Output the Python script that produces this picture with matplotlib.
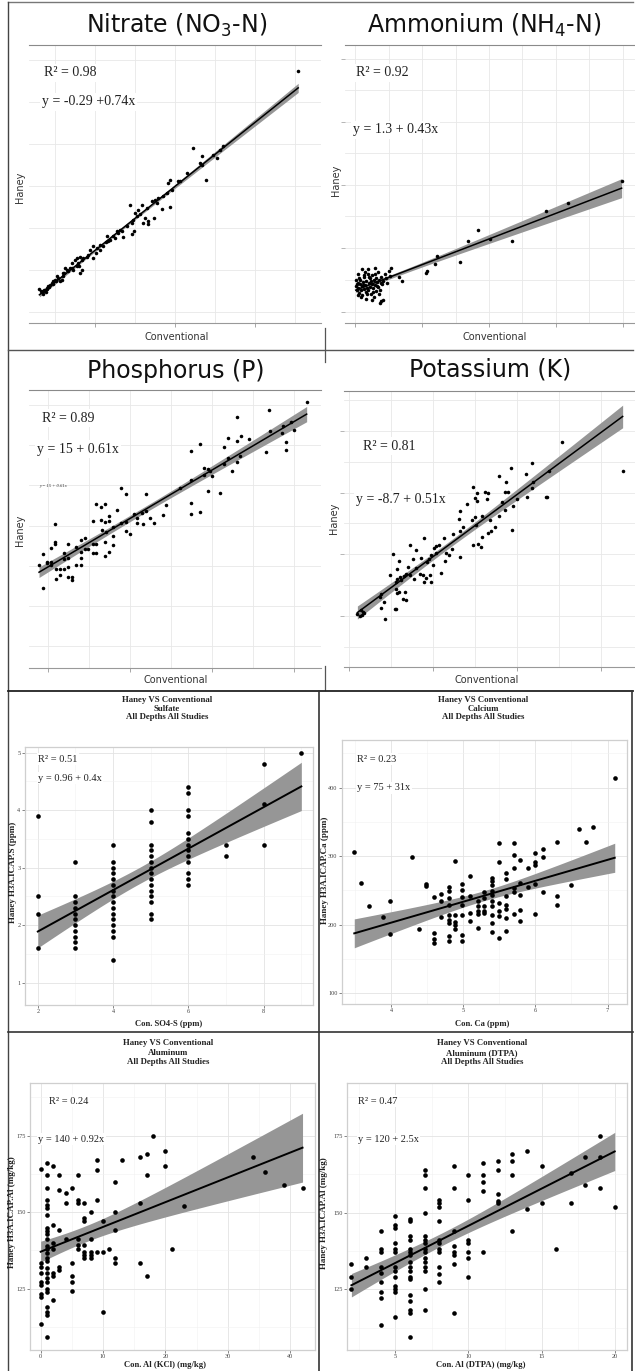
import numpy as np
import matplotlib.pyplot as plt
from matplotlib.lines import Line2D

# ---- data ---------------------------------------------------------------
# top four panels have no tick labels, units are only relative
NO3_X = [70.8, 44.6, 46.8, 52.1, 50.6, 47.7, 46.8, 40.8, 38.8, 38.3,
         38.8, 36.7, 37.1, 35.8, 35.0, 34.2, 28.8, 31.8, 30.8, 30.0,
         29.6, 29.8, 29.3, 32.5, 33.3, 34.8, 32.1, 33.3, 26.3, 25.8,
         25.4, 27.1, 24.6, 23.8, 22.9, 22.8, 21.3, 20.4, 19.6, 18.8,
         18.3, 19.6, 22.1, 16.3, 15.8, 16.7, 15.4, 14.2, 13.8, 16.7,
         16.3, 15.0, 12.9, 12.3, 12.1, 11.7, 10.8, 10.0, 9.2, 8.8,
         8.3, 7.9, 7.5, 7.1, 6.7, 6.9, 7.3, 9.6, 10.4, 11.3,
         12.5, 13.3, 14.6, 17.1, 17.9, 20.3, 21.3, 23.3, 25.0, 26.7,
         27.9, 29.2, 30.4, 31.3, 32.9, 35.4, 37.9, 39.2, 41.3, 42.9,
         46.3, 49.6, 51.3, 6.4, 7.8, 8.1, 6.1, 8.6, 9.4, 10.3,
         11.9, 14.2, 15.4, 16.1]
NO3_Y = [57.4, 39.0, 37.2, 39.4, 36.6, 31.5, 34.9, 31.1, 31.5, 30.7,
         25.1, 24.5, 27.5, 27.1, 26.7, 26.3, 25.4, 25.4, 24.2, 23.5,
         21.9, 19.2, 18.5, 22.4, 21.6, 22.4, 21.2, 21.0, 19.6, 18.8,
         19.2, 17.8, 18.0, 17.2, 18.0, 16.6, 16.0, 15.2, 15.6, 14.8,
         13.6, 12.8, 15.6, 13.2, 11.7, 12.4, 10.9, 11.7, 10.5, 10.1,
         9.3, 12.4, 10.1, 9.3, 8.5, 7.7, 8.1, 7.7, 6.9, 6.5,
         6.1, 5.7, 5.3, 4.9, 4.7, 4.4, 5.3, 7.3, 8.5, 7.3,
         10.5, 9.7, 10.1, 12.8, 13.2, 14.0, 14.8, 16.8, 17.6, 19.2,
         20.4, 21.2, 22.8, 23.2, 24.7, 25.9, 28.3, 29.1, 31.1, 33.1,
         35.4, 37.4, 38.6, 5.1, 4.7, 5.5, 5.5, 6.0, 6.7, 7.3,
         9.3, 10.5, 12.8, 10.9]

NH4_X = [39.8, 31.8, 28.5, 23.5, 20.1, 18.4, 16.8, 15.6, 12.2, 12.0,
         10.7, 10.6, 7.0, 6.6,
         0.2, 0.3, 0.4, 0.5, 0.6, 0.7, 0.8, 0.9, 1.0, 1.1,
         1.2, 1.3, 1.4, 1.5, 1.6, 1.7, 1.8, 1.9, 2.0, 2.1,
         2.2, 2.3, 2.4, 2.5, 2.6, 2.7, 2.8, 2.9, 3.0, 3.1,
         3.2, 3.3, 3.4, 3.5, 3.6, 3.7, 3.8, 3.9, 4.0, 4.2,
         4.4, 4.6, 4.8, 5.0, 5.2, 0.3, 0.6, 0.9, 1.2, 1.5,
         1.8, 2.1, 2.4, 2.7, 3.0, 3.3, 3.6, 3.9, 1.0, 1.3,
         0.1, 0.4, 2.0, 3.0, 5.3, 0.5, 2.6, 4.1, 3.9, 1.6]
NH4_Y = [19.1, 15.4, 14.1, 9.0, 9.4, 10.9, 9.0, 5.5, 6.5, 5.2,
         4.0, 3.7, 2.4, 3.0,
         1.5, 0.8, 2.1, 1.2, 0.3, 1.8, 2.6, 0.9, 1.5, 0.0,
         2.2, 1.0, 3.1, 1.7, 0.5, 2.4, 1.2, 3.5, 0.8, 2.0,
         1.4, 2.9, 0.2, 1.9, 3.3, 1.1, 2.5, -0.3, 1.6, 2.8,
         0.6, 2.2, 3.9, 1.3, 2.6, -1.4, 0.9, 3.0, 1.8, 2.4,
         3.6, 2.9, 2.0, 4.0, 3.2, 1.9, 2.9, -0.4, 1.6, 3.8,
         0.2, 3.0, 2.3, 0.5, 3.6, 1.5, 0.1, 2.0, 4.3, 3.3,
         2.5, 0.0, 4.4, 4.5, 4.6, 3.5, -0.8, -0.9, -1.0, -0.6]

P_X = [146.2, 128.0, 112.0, 134.5, 138.4, 128.3, 140.0, 134.3, 136.1, 136.1,
       126.2, 107.9, 112.0, 114.1, 118.0, 106.0, 107.9, 112.0, 113.6, 109.8,
       106.0, 96.1, 98.2, 99.0, 100.1, 96.1, 94.1, 90.0, 90.0, 84.3,
       98.2, 103.9, 90.0, 90.0, 94.1, 77.8, 75.9, 71.8, 69.7, 68.0,
       68.0, 65.8, 63.6, 61.9, 63.6, 66.1, 55.8, 57.8, 53.7, 58.0,
       59.9, 57.8, 55.8, 51.8, 43.6, 45.7, 47.8, 45.7, 47.8, 49.7,
       49.7, 46.1, 48.2, 41.7, 43.6, 41.7, 43.6, 39.7, 41.9, 47.8,
       49.7, 51.8, 51.8, 47.8, 37.9, 36.3, 37.8, 36.3, 33.7, 36.3,
       33.7, 36.3, 29.8, 29.8, 27.8, 27.7, 23.6, 23.6, 23.6, 21.6,
       19.7, 21.6, 21.6, 17.6, 15.6, 17.6, 23.7, 23.7, 25.7, 27.8,
       29.8, 29.8, 31.7, 31.7, 25.7, 19.5]
P_Y = [110.1, 106.3, 102.9, 98.4, 100.1, 95.8, 96.3, 94.9, 90.1, 86.1,
       85.5, 92.1, 90.8, 93.4, 91.6, 87.6, 82.5, 80.1, 83.3, 76.0,
       79.1, 77.5, 76.8, 75.8, 73.5, 73.8, 89.4, 85.8, 71.3, 67.5,
       66.0, 64.8, 59.7, 54.2, 55.5, 58.7, 53.8, 49.7, 52.5, 64.2,
       55.8, 54.7, 52.2, 54.5, 50.0, 49.5, 67.5, 64.3, 56.3, 50.5,
       44.4, 46.0, 49.7, 48.0, 59.5, 58.0, 59.3, 51.3, 50.5, 53.5,
       50.9, 46.4, 45.5, 50.9, 39.2, 34.7, 34.7, 36.9, 39.4, 33.5,
       35.5, 38.9, 43.5, 40.5, 42.5, 41.4, 36.9, 35.5, 38.0, 32.5,
       29.2, 28.9, 39.2, 32.2, 34.7, 31.7, 49.4, 40.5, 39.2, 37.5,
       30.5, 30.5, 28.9, 34.4, 28.9, 17.7, 27.2, 22.2, 24.2, 26.9,
       28.1, 23.1, 23.1, 21.4, 27.2, 29.7]

K_X = [425.4, 352.8, 317.1, 292.5, 278.2, 310.3, 286.1, 285.3, 288.5, 318.3,
       317.1, 311.1, 300.0, 295.3, 293.3, 335.7, 334.1, 338.1, 281.4, 285.3,
       278.6, 273.4, 268.7, 265.5, 267.5, 264.3, 261.5, 265.5, 258.7, 247.6,
       251.6, 249.6, 239.7, 251.6, 249.6, 246.5, 250.8, 257.6, 247.6, 253.6,
       256.8, 231.0, 231.8, 235.7, 231.8, 231.8, 223.8, 222.6, 215.9, 213.9,
       219.1, 213.1, 206.8, 203.2, 201.2, 204.0, 200.0, 209.1, 197.2, 194.9,
       192.9, 196.1, 198.0, 188.9, 191.3, 188.1, 185.3, 189.3, 179.4, 172.2,
       176.2, 177.0, 172.2, 168.3, 165.1, 162.3, 160.3, 157.6, 156.4, 159.1,
       152.4, 148.4, 157.2, 155.6, 157.2, 159.5, 166.3, 167.5, 164.3, 154.4,
       156.4, 141.3, 138.5, 137.7, 142.5, 116.7, 115.5, 117.9, 109.9, 114.7,
       112.7, 136.5, 170.3, 180.2, 184.1]
K_Y = [162.9, 186.6, 169.1, 165.6, 158.9, 160.5, 154.3, 146.2, 145.7, 154.3,
       149.4, 142.2, 140.3, 134.6, 115.2, 142.2, 141.6, 162.9, 138.1, 131.4,
       126.5, 117.4, 114.4, 113.3, 123.3, 140.3, 146.2, 144.9, 126.8, 150.2,
       144.9, 141.3, 136.0, 138.7, 126.0, 123.3, 119.3, 109.8, 103.1, 104.4,
       101.8, 124.1, 130.6, 117.9, 114.7, 93.7, 112.0, 100.4, 96.4, 90.2,
       94.8, 109.0, 103.1, 102.3, 101.2, 96.4, 87.0, 80.8, 95.0, 91.8,
       89.6, 78.9, 73.0, 73.0, 77.0, 78.9, 93.1, 108.5, 99.6, 103.1,
       92.3, 76.2, 79.4, 80.2, 78.3, 74.8, 77.5, 76.2, 73.5, 90.2,
       95.6, 78.9, 83.7, 68.1, 64.9, 65.4, 65.4, 58.7, 60.0, 52.0,
       52.0, 57.3, 64.1, 52.5, 43.3, 49.3, 46.5, 48.4, 47.9, 50.6,
       45.7, 61.4, 85.6, 84.8, 80.2]

SO4_X = [2, 2, 2, 2,
         3, 3, 3, 3, 3, 3, 3, 3, 3, 3, 3,
         4, 4, 4, 4, 4, 4, 4, 4, 4, 4, 4, 4, 4, 4, 4, 4,
         5, 5, 5, 5, 5, 5, 5, 5, 5, 5, 5, 5, 5, 5, 5,
         6, 6, 6, 6, 6, 6, 6, 6, 6, 6, 6, 6, 6,
         7, 7, 8, 8, 8, 9]
SO4_Y = [3.9, 2.5, 2.2, 1.6,
         3.1, 2.5, 2.4, 2.3, 2.2, 2.1, 2.0, 1.9, 1.8, 1.7, 1.6,
         3.4, 3.1, 3.0, 2.9, 2.8, 2.7, 2.6, 2.5, 2.4, 2.3, 2.2, 2.1, 2.0, 1.9, 1.8, 1.4,
         4.0, 3.8, 3.4, 3.3, 3.2, 3.1, 3.0, 2.9, 2.8, 2.7, 2.6, 2.5, 2.4, 2.2, 2.1,
         4.4, 4.3, 4.0, 3.9, 3.6, 3.5, 3.4, 3.3, 3.2, 3.1, 2.9, 2.8, 2.7,
         3.4, 3.2, 4.8, 4.1, 3.4, 5.0]

CA_X = [7.10, 6.60, 6.80, 6.70, 6.30, 6.10, 6.10, 6.00, 6.00, 6.00,
        5.79, 5.90, 5.70, 5.70, 5.70, 5.49, 5.49, 5.59, 5.59, 5.40,
        5.40, 5.09, 4.89, 4.29, 3.49, 3.59, 3.69, 3.89, 3.99, 3.99,
        4.39, 4.49, 4.49, 4.59, 4.59, 4.59, 4.59, 4.69, 4.69, 4.69,
        4.80, 4.80, 4.80, 4.80, 4.80, 4.80, 4.80, 4.80, 4.80, 4.89,
        4.89, 4.89, 4.89, 4.99, 4.99, 4.99, 4.99, 4.99, 4.99, 4.99,
        5.09, 5.09, 5.09, 5.20, 5.20, 5.20, 5.20, 5.20, 5.29, 5.29,
        5.29, 5.29, 5.29, 5.40, 5.40, 5.40, 5.40, 5.40, 5.40, 5.40,
        5.40, 5.49, 5.49, 5.49, 5.49, 5.59, 5.59, 5.59, 5.59, 5.59,
        5.70, 5.70, 5.70, 5.79, 5.79, 5.79, 5.79, 5.90, 6.00, 6.00,
        6.10, 6.30, 6.30, 6.50]
CA_Y = [413.6, 339.3, 342.2, 321.4, 321.4, 310.2, 299.5, 304.4, 292.2, 287.4,
        294.7, 282.5, 318.9, 302.0, 283.5, 318.9, 292.2, 275.2, 267.0, 268.9,
        264.1, 270.4, 293.7, 298.1, 306.8, 260.7, 226.7, 210.7, 234.9, 186.4,
        193.7, 259.7, 256.2, 240.3, 187.9, 179.6, 173.3, 244.7, 234.9, 211.2,
        255.8, 249.5, 238.8, 229.1, 214.6, 207.3, 202.4, 183.0, 176.7, 214.6,
        203.9, 199.0, 194.2, 259.2, 251.0, 240.3, 228.2, 214.6, 184.5, 176.7,
        241.3, 217.0, 204.9, 234.9, 226.7, 219.4, 215.5, 195.1, 247.6, 238.8,
        227.7, 220.4, 217.0, 257.3, 249.5, 242.7, 234.0, 226.7, 214.6, 202.4,
        189.3, 231.6, 220.4, 213.1, 180.6, 241.3, 228.2, 223.3, 209.7, 191.3,
        253.4, 248.5, 215.5, 260.7, 243.7, 221.8, 205.8, 255.8, 259.2, 216.0,
        248.5, 241.3, 228.2, 258.3]

AL_X = [18, 20, 20, 17, 17, 16, 13, 9, 9, 9,
        12, 12, 12, 12, 12, 16, 16, 17, 21, 23,
        34, 36, 39, 42, 10, 10, 10, 11, 9, 8,
        8, 8, 8, 8, 7, 7, 7, 7, 7, 7,
        7, 6, 6, 6, 6, 6, 6, 5, 5, 5,
        5, 5, 4, 4, 4, 3, 3, 3, 3, 3,
        2, 2, 2, 2, 2, 2, 2, 1, 1, 1,
        1, 1, 1, 1, 1, 1, 1, 1, 1, 1,
        1, 1, 1, 1, 1, 1, 1, 1, 1, 1,
        1, 1, 1, 0, 0, 0, 0, 0, 0, 0,
        0, 0]
AL_Y = [175.0, 169.9, 165.0, 169.0, 162.1, 168.0, 167.0, 167.0, 163.9, 153.9,
        159.9, 150.0, 144.1, 135.1, 133.2, 153.0, 133.2, 129.1, 138.0, 152.0,
        168.0, 163.0, 159.0, 157.9, 147.1, 137.1, 117.2, 138.0, 137.1, 150.0,
        141.1, 137.1, 136.0, 135.1, 148.0, 147.1, 153.0, 139.1, 137.1, 136.0,
        135.1, 162.1, 153.9, 153.0, 141.1, 139.1, 138.0, 157.9, 133.2, 129.1,
        127.2, 124.2, 156.1, 153.0, 141.1, 162.1, 157.1, 144.1, 132.1, 131.1,
        165.0, 145.9, 140.0, 138.0, 130.2, 129.1, 121.2, 166.1, 162.1, 157.9,
        154.1, 152.4, 151.4, 149.0, 144.9, 143.8, 142.7, 141.1, 138.9, 137.8,
        136.7, 135.1, 134.0, 131.8, 130.2, 128.3, 127.0, 125.0, 123.9, 118.8,
        117.4, 116.3, 109.3, 164.1, 133.2, 132.2, 130.2, 127.0, 126.1, 123.2,
        122.1, 113.4]

DTPA_X = [2, 2, 2, 3, 3,
          4, 4, 4, 4, 4, 4, 4, 4, 4,
          5, 5, 5, 5, 5, 5, 5, 5, 5, 5, 5, 5, 5,
          6, 6, 6, 6, 6, 6, 6, 6, 6, 6, 6, 6, 6, 6, 6, 6, 6,
          7, 7, 7, 7, 7, 7, 7, 7, 7, 7, 7, 7, 7, 7, 7,
          8, 8, 8, 8, 8, 8, 8, 8, 8, 8, 8,
          9, 9, 9, 9, 9, 9, 9, 9,
          10, 10, 10, 10, 10, 10, 10,
          11, 11, 11, 11, 11, 12, 12, 12, 12, 12,
          13, 13, 13, 13, 14, 14, 15, 15, 16, 17, 17,
          18, 18, 19, 19, 19, 20]
DTPA_Y = [133.2, 129.1, 125.1, 135.1, 132.2,
          144.1, 138.0, 137.1, 132.2, 130.2, 127.2, 124.2, 122.3, 113.4,
          149.0, 146.0, 144.9, 140.0, 138.0, 137.1, 132.2, 131.1, 129.1, 126.1, 125.0, 124.2, 116.1,
          148.0, 147.1, 142.2, 141.1, 138.0, 137.1, 136.0, 134.0, 132.2, 131.1, 129.1, 128.3, 123.2, 121.2, 118.3, 117.2, 109.3,
          163.9, 162.1, 157.9, 150.0, 142.2, 141.1, 140.0, 138.0, 137.1, 135.1, 134.0, 132.2, 131.1, 125.1, 118.3,
          154.1, 153.0, 151.9, 147.1, 141.1, 140.0, 138.0, 137.1, 132.2, 130.0, 127.2,
          165.0, 157.9, 144.1, 139.1, 137.1, 136.0, 133.2, 117.2,
          162.1, 154.1, 141.1, 140.0, 137.1, 135.1, 129.1,
          166.1, 162.1, 159.9, 157.1, 137.1, 166.9, 163.9, 156.1, 153.9, 153.0,
          169.0, 166.9, 162.1, 144.1, 169.9, 151.1, 165.0, 153.0, 138.0, 163.0, 153.0,
          168.0, 159.0, 175.0, 168.0, 157.9, 151.9]

TOP_TITLES = ["Nitrate (NO$_3$-N)", "Ammonium (NH$_4$-N)", "Phosphorus (P)", "Potassium (K)"]
TOP_R2 = ["R² = 0.98", "R² = 0.92", "R² = 0.89", "R² = 0.81"]
TOP_EQ = ["y = -0.29 +0.74x", "y = 1.3 + 0.43x", "y = 15 + 0.61x", "y = -8.7 + 0.51x"]
BOT_ELEMENT = ["Sulfate", "Calcium", "Aluminum", "Aluminum (DTPA)"]
BOT_R2 = ["R² = 0.51", "R² = 0.23", "R² = 0.24", "R² = 0.47"]
BOT_EQ = ["y = 0.96 + 0.4x", "y = 75 + 31x", "y = 140 + 0.92x", "y = 120 + 2.5x"]
BOT_XLAB = ["Con. SO4-S (ppm)", "Con. Ca (ppm)", "Con. Al (KCl) (mg/kg)", "Con. Al (DTPA) (mg/kg)"]
BOT_YLAB = ["Haney H3A.ICAP.S (ppm)", "Haney H3A.ICAP.Ca (ppm)",
            "Haney H3A.ICAP.Al (mg/kg)", "Haney H3A.ICAP.Al (mg/kg)"]

W, H = 635, 1371
SERIF = "Liberation Serif"
BAND = "#969696"

fig = plt.figure(figsize=(W / 100, H / 100), dpi=100)


def box(l, t, r, b):
    return [l / W, 1 - b / H, (r - l) / W, (b - t) / H]


def ftext(x, y, s, **kw):
    return fig.text(x / W, 1 - y / H, s, **kw)


def fline(x0, y0, x1, y1, color="#333333", lw=1.0):
    fig.add_artist(Line2D([x0 / W, x1 / W], [1 - y0 / H, 1 - y1 / H],
                          transform=fig.transFigure, color=color, lw=lw))


def smooth(ax, x, y, size, lw):
    """points + lm fit with 95% band, like geom_smooth(method='lm')"""
    x = np.asarray(x, float)
    y = np.asarray(y, float)
    slope, icpt = np.polyfit(x, y, 1)
    n = x.size
    s = np.sqrt(np.sum((y - icpt - slope * x) ** 2) / (n - 2))
    sxx = np.sum((x - x.mean()) ** 2)
    xs = np.linspace(x.min(), x.max(), 100)
    ys = icpt + slope * xs
    se = s * np.sqrt(1 / n + (xs - x.mean()) ** 2 / sxx)
    ax.fill_between(xs, ys - 1.97 * se, ys + 1.97 * se, color=BAND, lw=0, zorder=2)
    ax.scatter(x, y, s=size, color="black", lw=0, zorder=3)
    ax.plot(xs, ys, color="black", lw=lw, zorder=4)


def top_panel(rect, x, y, xlim, ylim, xmaj, xmin, ymaj, ymin, left_ticks):
    ax = fig.add_axes(box(*rect))
    smooth(ax, x, y, 6.5, 1.1)
    ax.set_xlim(xlim)
    ax.set_ylim(ylim)
    ax.set_xticks(xmaj)
    ax.set_xticks(xmin, minor=True)
    ax.set_yticks(ymaj)
    ax.set_yticks(ymin, minor=True)
    ax.grid(True, which="both", color="#e8e8e8", lw=0.6, zorder=0)
    ax.set_axisbelow(True)
    ax.tick_params(which="both", labelbottom=False, labelleft=False)
    ax.tick_params(axis="x", which="major", length=3, color="#999999", width=0.6)
    ax.tick_params(axis="x", which="minor", length=0)
    ax.tick_params(axis="y", which="major", length=3 if left_ticks else 0,
                   color="#aaaaaa", width=0.6)
    ax.tick_params(axis="y", which="minor", length=0)
    for side in ("left", "right"):
        ax.spines[side].set_visible(False)
    ax.spines["top"].set_color("#8a8a8a")
    ax.spines["bottom"].set_color("#999999")
    ax.spines["top"].set_linewidth(0.8)
    ax.spines["bottom"].set_linewidth(0.8)
    return ax


def r_panel(rect, x, y, xlim, ylim, xmaj, xmin, ymaj, ymin):
    ax = fig.add_axes(box(*rect))
    smooth(ax, x, y, 11, 1.4)
    ax.set_xlim(xlim)
    ax.set_ylim(ylim)
    ax.set_xticks(xmaj)
    ax.set_xticks(xmin, minor=True)
    ax.set_yticks(ymaj)
    ax.set_yticks(ymin, minor=True)
    ax.grid(True, which="major", color="#e3e3e3", lw=0.6, zorder=0)
    ax.grid(True, which="minor", color="#f1f1f1", lw=0.4, zorder=0)
    ax.set_axisbelow(True)
    ax.tick_params(which="major", length=2, width=0.5, color="#555555", pad=1.2,
                   labelsize=4.5, labelcolor="#444444")
    ax.tick_params(which="minor", length=0)
    for lab in ax.get_xticklabels() + ax.get_yticklabels():
        lab.set_family(SERIF)
    for sp in ax.spines.values():
        sp.set_color("#cfcfcf")
        sp.set_linewidth(0.9)
    return ax


# ---- top block ----------------------------------------------------------
top_panel((29, 45, 321, 323), NO3_X, NO3_Y, (3.5, 76.5), (-2.6, 63.5),
          [20, 40, 60], [10, 30, 50, 70], [0, 20, 40, 60], [10, 30, 50], False)
top_panel((345, 45, 635, 323), NH4_X, NH4_Y, (-1.5, 41.8), (-4.7, 42.0),
          [0, 10, 20, 30, 40], [5, 15, 25, 35],
          [-2.8, 7.9, 18.5, 29.1, 39.7], [2.5, 13.2, 23.8, 34.4], True)
top_panel((29, 390, 321, 668), P_X, P_Y, (10.7, 153.2), (-22.4, 116.2),
          [20, 60, 100, 140], [40, 80, 120],
          [-11.4, 8.6, 28.6, 48.6, 68.6, 88.6, 108.6], [], False)
top_panel((344, 391, 635, 667), K_X, K_Y, (94.0, 440.1), (4.8, 227.5),
          [100, 200, 300, 400], [150, 250, 350],
          [46.0, 95.8, 145.4, 195.2], [21.0, 71.3, 120.6, 170.4, 220.3], True)

title_pos = [(177, 25), (484, 25), (176, 371), (490, 370)]
conv_pos = [(177, 337), (495, 337), (176, 680), (487, 680)]
haney_pos = [(20, 187), (336, 180), (20, 530), (334, 518)]
r2_pos = [(44, 73), (356, 73), (42, 418), (363, 446)]
eq_pos = [(42, 102), (353, 130), (37, 449), (356, 500)]
for i in range(4):
    ftext(*title_pos[i], TOP_TITLES[i], ha="center", va="center", fontsize=17,
          family="DejaVu Sans", color="#111111")
    ftext(*conv_pos[i], "Conventional", ha="center", va="center", fontsize=7,
          family="DejaVu Sans", color="#333333")
    ftext(*haney_pos[i], "Haney", ha="center", va="center", fontsize=7,
          rotation=90, family="DejaVu Sans", color="#333333")
    ftext(*r2_pos[i], TOP_R2[i], ha="left", va="center", fontsize=10, family=SERIF,
          color="#222222", bbox=dict(fc="white", ec="none", pad=1.5))
    ftext(*eq_pos[i], TOP_EQ[i], ha="left", va="center", fontsize=10, family=SERIF,
          color="#222222", bbox=dict(fc="white", ec="none", pad=1.5))
ftext(39, 486, "y = 15 + 0.61x", ha="left", va="center", fontsize=3.3,
      style="italic", family=SERIF, color="#333333")

# ---- bottom block (R plots) --------------------------------------------
r_panel((25, 747, 313, 1005), SO4_X, SO4_Y, (1.66, 9.31), (0.61, 5.1),
        [2, 4, 6, 8], [3, 5, 7, 9], [1, 2, 3, 4, 5], [1.5, 2.5, 3.5, 4.5])
r_panel((342, 740, 627, 1004), CA_X, CA_Y, (3.32, 7.27), (84.5, 469.4),
        [4, 5, 6, 7], [3.5, 4.5, 5.5, 6.5], [100, 200, 300, 400], [150, 250, 350, 450])
r_panel((30, 1083, 315, 1350), AL_X, AL_Y, (-1.71, 44.0), (104.9, 192.2),
        [0, 10, 20, 30, 40], [5, 15, 25, 35], [125, 150, 175], [112.5, 137.5, 162.5, 187.5])
r_panel((347, 1083, 627, 1350), DTPA_X, DTPA_Y, (1.7, 20.84), (105.2, 192.2),
        [5, 10, 15, 20], [2.5, 7.5, 12.5, 17.5], [125, 150, 175], [112.5, 137.5, 162.5, 187.5])

bt_x = [167, 483, 168, 482]
bt_y = [(700, 709, 717), (700, 709, 717), (1043, 1053, 1062), (1043, 1053, 1062)]
bx_pos = [(169, 1024), (482, 1024), (165, 1365), (481, 1365)]
by_pos = [(13, 872), (325, 870), (12, 1212), (324, 1213)]
br2_pos = [(38, 759), (357, 759), (49, 1101), (358, 1101)]
beq_pos = [(38, 778), (357, 788), (38, 1139), (358, 1139)]
for i in range(4):
    lines = ["Haney VS Conventional", BOT_ELEMENT[i], "All Depths All Studies"]
    for s, yy in zip(lines, bt_y[i]):
        ftext(bt_x[i], yy, s, ha="center", va="center", fontsize=6.3,
              family=SERIF, weight="bold", color="#222222")
    ftext(*bx_pos[i], BOT_XLAB[i], ha="center", va="center", fontsize=6.2,
          family=SERIF, weight="bold", color="#222222")
    ftext(*by_pos[i], BOT_YLAB[i], ha="center", va="center", fontsize=6.5,
          rotation=90, family=SERIF, weight="bold", color="#222222")
    ftext(*br2_pos[i], BOT_R2[i], ha="left", va="center", fontsize=7.5, family=SERIF,
          color="#222222", bbox=dict(fc="white", ec="none", pad=1))
    ftext(*beq_pos[i], BOT_EQ[i], ha="left", va="center", fontsize=7.5, family=SERIF,
          color="#222222", bbox=dict(fc="white", ec="none", pad=1))

# ---- frame lines of the pasted screenshots ------------------------------
fline(8, 2, 633, 2, "#777777", 1.0)
fline(8, 2, 8, 1371, "#444444", 1.0)
fline(8, 350, 633, 350, "#555555", 1.0)
fline(325, 328, 325, 362, "#555555", 0.9)
fline(325, 666, 325, 690, "#555555", 0.9)
fline(8, 691, 633, 691, "#222222", 1.3)
fline(632, 691, 632, 1371, "#333333", 1.2)
fline(319, 691, 319, 1371, "#333333", 1.2)
fline(8, 1032, 633, 1032, "#333333", 1.2)

fig.savefig("out.png", dpi=100)
